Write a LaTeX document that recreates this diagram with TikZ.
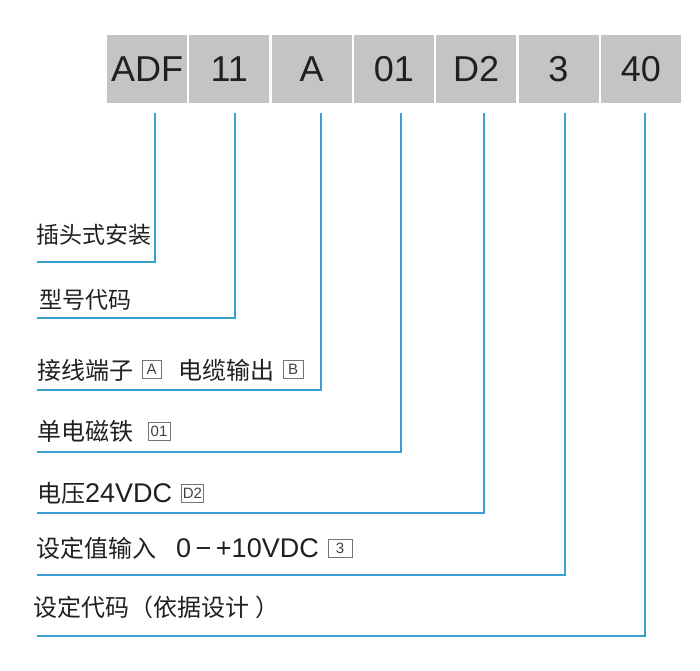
\documentclass[tikz,border=0pt]{standalone}
\usepackage{fontspec}
\setmainfont{Liberation Sans}
\newfontfamily\cjk{Noto Sans CJK SC}
\definecolor{lineblue}{HTML}{3A9FD2}
\definecolor{boxgray}{HTML}{C4C4C4}
\definecolor{ink}{HTML}{231F20}
\begin{document}
\begin{tikzpicture}[x=1pt,y=-1pt,
 codebox/.style={fill=boxgray, minimum width=80pt, minimum height=68pt, inner sep=0pt, font=\fontsize{36}{36}\selectfont, text=ink},
 lead/.style={draw=lineblue, line width=1.6pt},
 label/.style={anchor=base west, inner sep=0pt, font=\cjk\fontsize{24}{26}\selectfont, text=ink},
 latin/.style={anchor=base west, inner sep=0pt, font=\fontsize{27}{27}\selectfont, text=ink},
 tag/.style={draw=black!55, line width=0.7pt, inner sep=0pt, minimum height=18pt, font=\fontsize{15}{15}\selectfont, text=black!75}
]
\useasboundingbox (0,0) rectangle (700,670);

% code boxes
\node[codebox] (b1) at (147,69) {ADF};
\node[codebox] (b2) at (229.3,69) {11};
\node[codebox] (b3) at (311.6,69) {A};
\node[codebox] (b4) at (393.9,69) {01};
\node[codebox] (b5) at (476.2,69) {D2};
\node[codebox] (b6) at (558.5,69) {3};
\node[codebox] (b7) at (640.8,69) {40};

% line start and end points
\coordinate (s1) at (155,113); \coordinate (e1) at (37,262);
\coordinate (s2) at (235,113); \coordinate (e2) at (37,318);
\coordinate (s3) at (321,113); \coordinate (e3) at (37,390);
\coordinate (s4) at (401,113); \coordinate (e4) at (37,452);
\coordinate (s5) at (484,113); \coordinate (e5) at (37,513);
\coordinate (s6) at (565,113); \coordinate (e6) at (37,575);
\coordinate (s7) at (645,113); \coordinate (e7) at (37,636);

\foreach \i in {1,...,7} { \draw[lead] (s\i) |- (e\i); }

% labels
\node[label, font=\cjk\fontsize{23}{25}\selectfont] (l1) at (36,243) {插头式安装};
\node[label, font=\cjk\fontsize{23}{25}\selectfont] (l2) at (39,308.5) {型号代码};
\node[label] (l3a) at (37,379) {接线端子};
\node[tag, minimum width=19pt] (t3a) at (151.5,369.5) {A};
\node[label] (l3b) at (178,379) {电缆输出};
\node[tag, minimum width=20pt] (t3b) at (293,369.5) {B};
\node[label] (l4) at (37,440) {单电磁铁};
\node[tag, minimum width=22pt] (t4) at (159,431) {01};
\node[label] (l5a) at (37,502) {电压};
\node[latin] (l5b) at (85,502.5) {24VDC};
\node[tag, minimum width=22pt] (t5) at (192.5,493) {D2};
\node[label] (l6a) at (36,557) {设定值输入};
\node[latin] (l6b) at (176,557.5) {0\,−\,+10VDC};
\node[tag, minimum width=24pt] (t6) at (340,548.5) {3};
\node[label] (l7) at (33,616) {设定代码（依据设计\hspace{6pt}）};
\end{tikzpicture}
\end{document}
